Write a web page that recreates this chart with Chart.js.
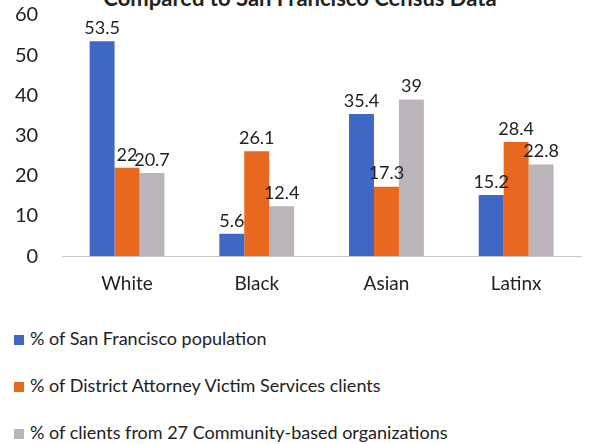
<!DOCTYPE html>
<html>
<head>
<meta charset="utf-8">
<script src="https://cdn.jsdelivr.net/npm/chart.js@4"></script>
<style>
  body { margin: 0; background: #fff; }
  #wrap { position: relative; width: 615px; height: 444px; overflow: hidden; font-family: 'Lato', sans-serif; color: #222; }
  #title { position: absolute; top: -16px; left: 0; width: 600px; text-align: center; font-weight: bold; font-size: 22px; }
  #chartBox { position: absolute; top: -21px; left: 0; width: 615px; height: 332px; }
  #legend { position: absolute; left: 14px; top: 326px; }
  .item { height: 47px; font-size: 18px; line-height: 24px; }
  .box { display: inline-block; width: 10px; height: 10px; margin-right: 6px; }
</style>
</head>
<body>
<div id="wrap">
  <div id="title">Compared to San Francisco Census Data</div>
  <div id="chartBox"><canvas id="raceChart"></canvas></div>
  <div id="legend"></div>
</div>
<script>

// data
var categories = ['White', 'Black', 'Asian', 'Latinx'];
var seriesNames = [
    '% of San Francisco population',
    '% of District Attorney Victim Services clients',
    '% of clients from 27 Community-based organizations'];
var sfPopulation = [53.5, 5.6, 35.4, 15.2];
var daClients = [22, 26.1, 17.3, 28.4];
var cboClients = [20.7, 12.4, 39, 22.8];
var yTicks = [0, 10, 20, 30, 40, 50, 60];

var colors = ['#3f67c4', '#e8681f', '#bbb5bb'];

Chart.defaults.font.family = "'Lato', sans-serif";
Chart.defaults.color = '#222';


// value labels above each bar
var valueLabels = {
    id: 'valueLabels',
    afterDatasetsDraw: function(chart) {
        var ctx = chart.ctx;
        ctx.save();
        ctx.font = '18px Lato, sans-serif';
        ctx.fillStyle = '#222';
        ctx.textAlign = 'center';
        ctx.textBaseline = 'bottom';
        chart.data.datasets.forEach(function(ds, i) {
            chart.getDatasetMeta(i).data.forEach(function(bar, j) {
                ctx.fillText(String(ds.data[j]), bar.x, bar.y - 4);
            });
        });
        ctx.restore();
    }
};

var ctx_r = document.getElementById('raceChart').getContext('2d');

var race_chart = new Chart(ctx_r, {
    type: 'bar',
    data: {
        labels: categories,
        datasets: [
            {label: seriesNames[0], data: sfPopulation, backgroundColor: colors[0]},
            {label: seriesNames[1], data: daClients, backgroundColor: colors[1]},
            {label: seriesNames[2], data: cboClients, backgroundColor: colors[2]},
        ],
    },
    options: {
        responsive: true,
        maintainAspectRatio: false,
        animation: false,
        // tick padding is counted twice by the scales, so pull the left edge back in
        layout: {padding: {left: -9, right: 34, top: 0, bottom: 0}},
        datasets: {bar: {barPercentage: 1, categoryPercentage: 0.577}},
        scales: {
            y: {
                min: 0,
                max: 60,
                afterBuildTicks: function(axis) {
                    axis.ticks = yTicks.map(function(v) { return {value: v}; });},
                grid: {display: false, drawTicks: false},
                border: {display: false},
                ticks: {font: {size: 20}, padding: 24, color: '#222'}},
            x: {
                grid: {display: false, drawTicks: false},
                border: {display: true, color: '#c8c8c8', width: 1},
                ticks: {font: {size: 19}, padding: 16, color: '#222'}},
        },
        plugins: {
            legend: {display: false},
            tooltip: {enabled: false},
        },
    },
    plugins: [valueLabels],
});

// legend, one row per series
var legendDiv = document.getElementById('legend');
seriesNames.forEach(function(name, i) {
    var row = document.createElement('div');
    row.className = 'item';
    row.innerHTML = '<span class="box" style="background:' + colors[i] + '"></span>' + name;
    legendDiv.appendChild(row);
});

</script>
</body>
</html>
